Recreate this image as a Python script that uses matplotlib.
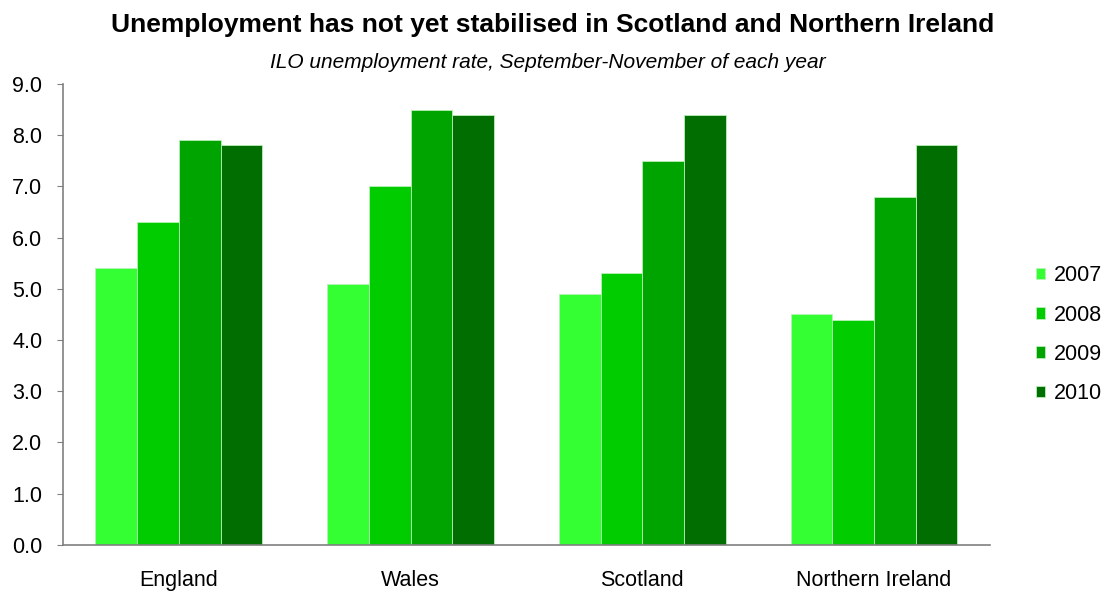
import matplotlib.pyplot as plt
import numpy as np

plt.rcParams['font.family'] = ['Liberation Sans', 'DejaVu Sans']

regions = ["England", "Wales", "Scotland", "Northern Ireland"]
years = ["2007", "2008", "2009", "2010"]
rate_2007 = [5.4, 5.1, 4.9, 4.5]
rate_2008 = [6.3, 7.0, 5.3, 4.4]
rate_2009 = [7.9, 8.5, 7.5, 6.8]
rate_2010 = [7.8, 8.4, 8.4, 7.8]
colors = ["#33ff33", "#00cc00", "#00a400", "#006e00"]

series = [rate_2007, rate_2008, rate_2009, rate_2010]

fig = plt.figure(figsize=(11.06, 5.91), dpi=100)
ax = fig.add_axes([0.057, 0.078, 0.838, 0.780])

x = np.arange(len(regions))
w = 0.18
for i, vals in enumerate(series):
    ax.bar(x + (i - 1.5) * w, vals, w, color=colors[i], edgecolor="#b8f0b8",
           linewidth=0.6, label=years[i])

ax.set_xlim(-0.5, 3.5)
ax.set_ylim(0, 9)
ticks = np.arange(0, 9.1, 1.0)
ax.set_yticks(ticks)
ax.set_yticklabels([f"{v:.1f}" for v in ticks], fontsize=15.5)
ax.set_xticks(x)
ax.set_xticklabels(regions, fontsize=15.5)
ax.tick_params(axis="x", length=0, pad=18)
ax.tick_params(axis="y", length=4, color="#808080", pad=11)
for s in ["top", "right"]:
    ax.spines[s].set_visible(False)
for s in ["left", "bottom"]:
    ax.spines[s].set_color("#808080")
    ax.spines[s].set_linewidth(1.2)

fig.text(0.5, 0.957, "Unemployment has not yet stabilised in Scotland and Northern Ireland",
         ha="center", va="center", fontsize=19, fontweight="bold")
fig.text(0.495, 0.895, "ILO unemployment rate, September-November of each year",
         ha="center", va="center", fontsize=15, style="italic")

ax.legend(loc="center left", bbox_to_anchor=(1.04, 0.456), frameon=False, fontsize=15.5,
          borderaxespad=0, handlelength=0.45, handleheight=0.45, handletextpad=0.4,
          labelspacing=0.85)

fig.savefig("out.png", dpi=100)
